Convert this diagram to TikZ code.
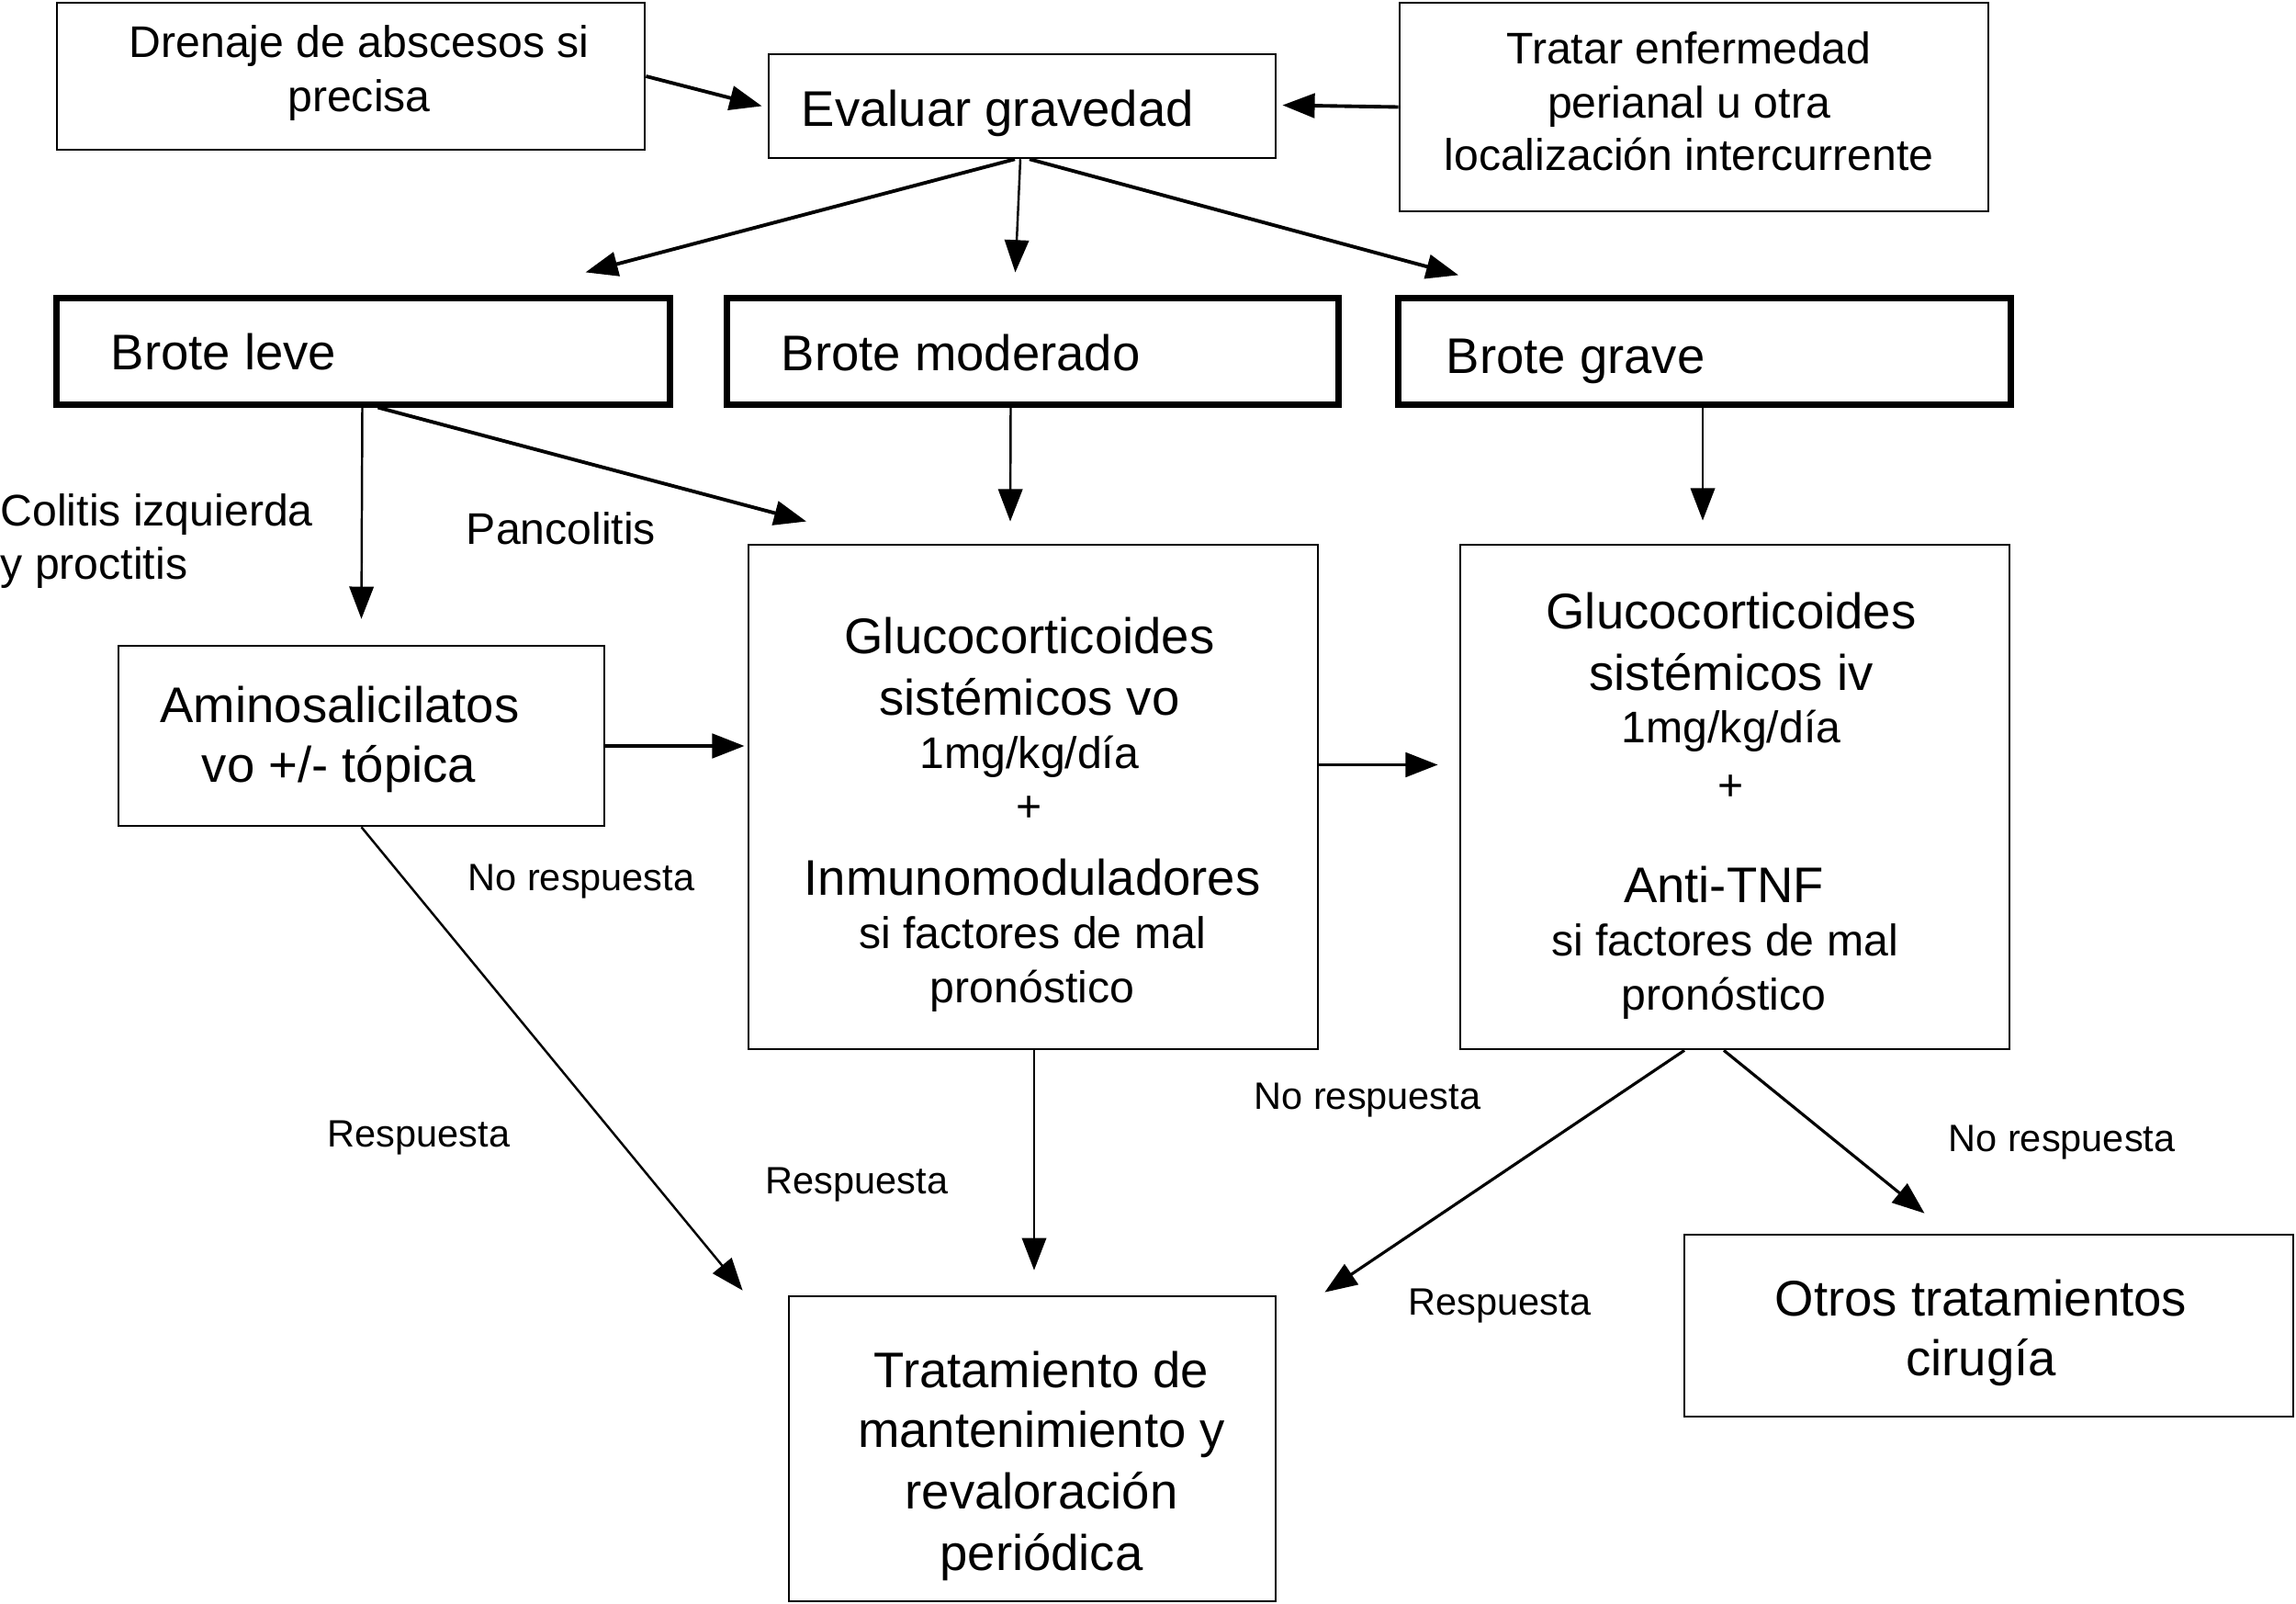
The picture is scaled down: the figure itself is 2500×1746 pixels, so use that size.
\documentclass[tikz,border=0pt]{standalone}
\usepackage{fontspec}
\setmainfont{Liberation Sans}
\usetikzlibrary{arrows.meta,calc}
\begin{document}
\begin{tikzpicture}[x=0.01cm,y=-0.01cm,
  box/.style={draw, line width=0.7pt, inner sep=0, rectangle},
  thickbox/.style={draw, line width=2pt, inner sep=0, rectangle},
  arr/.style={-{Triangle[length=10pt,width=7.5pt]}, line width=1.1pt},
  tarr/.style={-{Triangle[length=10pt,width=7.5pt]}, line width=0.7pt},
  L/.style={font=\fontsize{15.5}{18.8}\selectfont, inner sep=0, text height=11.2pt, text depth=3.1pt, yshift=-1.4pt},
  M/.style={font=\fontsize{13.7}{16.6}\selectfont, inner sep=0, text height=9.9pt, text depth=2.7pt, yshift=-1.2pt},
  S/.style={font=\fontsize{11.8}{14.2}\selectfont, inner sep=0, text height=8.5pt, text depth=2.4pt, yshift=-1pt}]
\useasboundingbox (0,0) rectangle (2500,1746);

% top row
\node[box, minimum width=6.40cm, minimum height=1.60cm] (dren) at (382,83) {};
\node[M] (dren1) at (391,46) {Drenaje de abscesos si};
\node[M] (dren2) at (391,105) {precisa};

\node[box, minimum width=5.52cm, minimum height=1.13cm] (ev) at (1113,115.5) {};
\node[L, anchor=west] (ev1) at (872,118) {Evaluar gravedad};

\node[box, minimum width=6.41cm, minimum height=2.27cm] (trat) at (1844.5,116.5) {};
\node[M] (trat1) at (1839,53) {Tratar enfermedad};
\node[M] (trat2) at (1839,112) {perianal u otra};
\node[M] (trat3) at (1839,169) {localización intercurrente};

% brotes
\node[thickbox, minimum width=6.67cm, minimum height=1.15cm] (leve) at (395.5,382.5) {};
\node[L, anchor=west] (leve1) at (120,383) {Brote leve};
\node[thickbox, minimum width=6.65cm, minimum height=1.15cm] (mod) at (1124.5,382.5) {};
\node[L, anchor=west] (mod1) at (850,384) {Brote moderado};
\node[thickbox, minimum width=6.66cm, minimum height=1.15cm] (grave) at (1856,382.5) {};
\node[L, anchor=west] (grave1) at (1574,387) {Brote grave};

% treatments
\node[box, minimum width=5.29cm, minimum height=1.96cm] (amino) at (393.5,801) {};
\node[L] (amino1) at (370,767) {Aminosalicilatos};
\node[L] (amino2) at (369,832) {vo +/- tópica};

\node[box, minimum width=6.20cm, minimum height=5.49cm] (gvo) at (1125,867.5) {};
\node[L] (gvo1) at (1121,692) {Glucocorticoides};
\node[L] (gvo2) at (1121,759) {sistémicos vo};
\node[M] (gvo3) at (1121,820) {1mg/kg/día};
\node[M] (gvo4) at (1121,878) {+};
\node[L] (gvo5) at (1124,955) {Inmunomoduladores};
\node[M] (gvo6) at (1124,1016) {si factores de mal};
\node[M] (gvo7) at (1124,1075) {pronóstico};

\node[box, minimum width=5.98cm, minimum height=5.49cm] (giv) at (1889,867.5) {};
\node[L] (giv1) at (1885,665) {Glucocorticoides};
\node[L] (giv2) at (1885,732) {sistémicos iv};
\node[M] (giv3) at (1885,792) {1mg/kg/día};
\node[M] (giv4) at (1885,855) {+};
\node[L] (giv5) at (1877,963) {Anti-TNF};
\node[M] (giv6) at (1878,1024) {si factores de mal};
\node[M] (giv7) at (1877,1083) {pronóstico};

\node[box, minimum width=5.30cm, minimum height=3.32cm] (tm) at (1124,1577) {};
\node[L] (tm1) at (1134,1491) {Tratamiento de};
\node[L] (tm2) at (1134,1556) {mantenimiento y};
\node[L] (tm3) at (1134,1623) {revaloración};
\node[L] (tm4) at (1134,1690) {periódica};

\node[box, minimum width=6.63cm, minimum height=1.98cm] (otros) at (2165.5,1443) {};
\node[L] (otros1) at (2157,1413) {Otros tratamientos};
\node[L] (otros2) at (2157,1478) {cirugía};

% labels
\node[M, anchor=west] (col1) at (0,556) {Colitis izquierda};
\node[M, anchor=west] (col2) at (0,614) {y proctitis};
\node[M] (panc) at (611,576) {Pancolitis};
\node[S] (nr1) at (633,955) {No respuesta};
\node[S] (r1) at (456,1234) {Respuesta};
\node[S] (r2) at (933,1285) {Respuesta};
\node[S] (nr2) at (1489,1193) {No respuesta};
\node[S] (nr3) at (2245,1239) {No respuesta};
\node[S] (r3) at (1633,1417) {Respuesta};

% connectors
\draw[arr] (dren.east) -- ($(ev.west)+(-6,0)$);
\draw[arr] (trat.west) -- ($(ev.east)+(6,-1)$);
\draw[arr] ($(ev.south)+(-8,0)$) -- ($(leve.north)+(242,-25)$);
\draw[tarr] ($(ev.south)+(-2,0)$) -- ($(mod.north)+(-19,-25)$);
\draw[arr] ($(ev.south)+(8,0)$) -- ($(grave.north)+(-268,-22)$);

\draw[tarr] ($(leve.south)+(-1,0)$) -- ($(amino.north)+(0,-28)$);
\draw[arr] ($(leve.south)+(16,0)$) -- ($(gvo.north)+(-247,-24)$);
\draw[tarr] ($(mod.south)+(-24,0)$) -- ($(gvo.north)+(-25,-24)$);
\draw[tarr] ($(grave.south)+(-2,0)$) -- ($(giv.north)+(-35,-25)$);

\draw[arr] ($(amino.east)+(0,11)$) coordinate (a1) -- ($(a1 -| gvo.west)+(-3,0)$);
\draw[arr] ($(gvo.east)+(0,-35)$) coordinate (b1) -- ($(b1 -| giv.west)+(-23,0)$);

\draw[tarr] (amino.south) -- ($(tm.north west)+(-49,-5)$);
\draw[tarr] ($(gvo.south)+(1,0)$) -- ($(tm.north)+(2,-27)$);
\draw[tarr, line width=0.9pt] ($(giv.south)+(-55,0)$) -- ($(tm.north east)+(52,-3)$);
\draw[tarr, line width=0.9pt] ($(giv.south)+(-12,0)$) -- ($(otros.north)+(-70,-22)$);
\end{tikzpicture}
\end{document}
